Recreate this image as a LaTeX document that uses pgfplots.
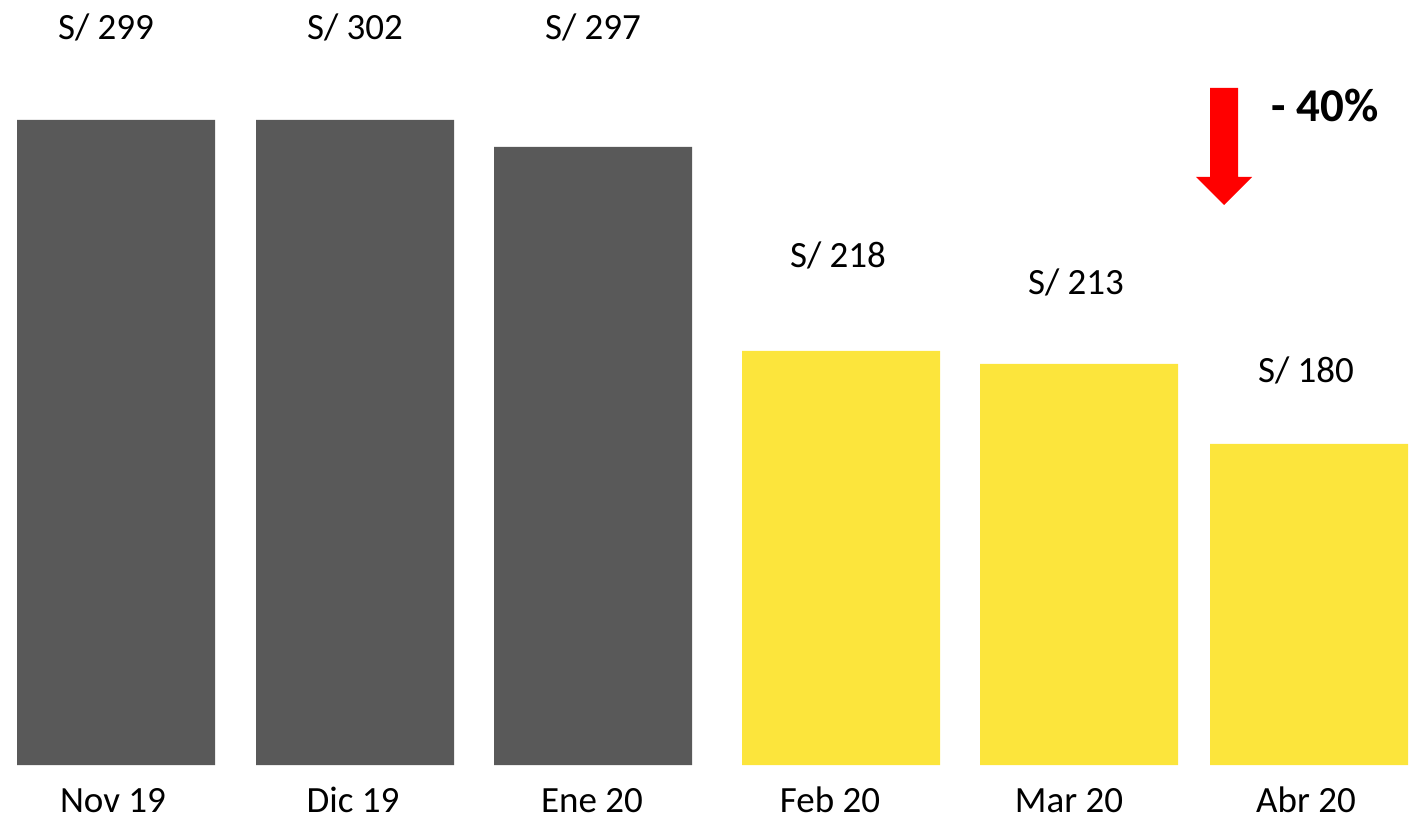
\documentclass[border=0pt]{standalone}
\usepackage{pgfplots}
\pgfplotsset{compat=1.18}
\usepackage{pgfplotstable}
\usepackage{fontspec}
\setmainfont{Carlito}
\definecolor{barGray}{HTML}{595959}
\definecolor{barYellow}{HTML}{FCE53C}
\definecolor{arrowRed}{HTML}{FF0000}

% bar heights (drawn heights, baseline = 0)
\pgfplotstableread{
x h
116 645
355 645
593 618
}\grayBars
\pgfplotstableread{
x h
841 414
1079 401
1309 321
}\yellowBars
% value labels: position and text
\pgfplotstableread[col sep=comma]{
x,y,label
106,725,S/ 299
355,725,S/ 302
593,725,S/ 297
838,497,S/ 218
1076,470,S/ 213
1306,382,S/ 180
}\valueLabels

\begin{document}
\begin{tikzpicture}
\begin{axis}[
  scale only axis,
  width=704.5pt, height=410pt,
  xmin=0, xmax=1409, ymin=-55, ymax=765,
  axis line style={draw=none},
  major tick length=0pt,
  ytick=\empty,
  xtick={113,353,592,830,1069,1306},
  xticklabels={Nov 19,Dic 19,Ene 20,Feb 20,Mar 20,Abr 20},
  xticklabel style={anchor=base, yshift=4pt, inner sep=0pt, font=\fontsize{18.5pt}{20pt}\selectfont},
  clip=false,
  ybar, bar shift=0pt, bar width=99pt,
]
\addplot[fill=barGray, draw=none] table[x=x, y=h] {\grayBars};
\addplot[fill=barYellow, draw=none] table[x=x, y=h] {\yellowBars};
\addplot[draw=none, fill=none, mark=none, forget plot,
  nodes near coords, point meta=explicit symbolic,
  every node near coord/.style={anchor=base, inner sep=0pt, text=black, font=\fontsize{18.5pt}{20pt}\selectfont}]
  table[x=x, y=y, meta=label] {\valueLabels};
% arrow annotation
\fill[arrowRed] (axis cs:1210,677) -- (axis cs:1238,677) -- (axis cs:1238,588)
  -- (axis cs:1252,588) -- (axis cs:1224,560) -- (axis cs:1196,588)
  -- (axis cs:1210,588) -- cycle;
\node[anchor=base west, inner sep=0pt, font=\fontsize{23.5pt}{26pt}\selectfont\bfseries] at (axis cs:1271,643) {- 40\%};
\end{axis}
\pgfresetboundingbox
\path (current axis.south west) rectangle (current axis.north east);
\end{tikzpicture}
\end{document}
